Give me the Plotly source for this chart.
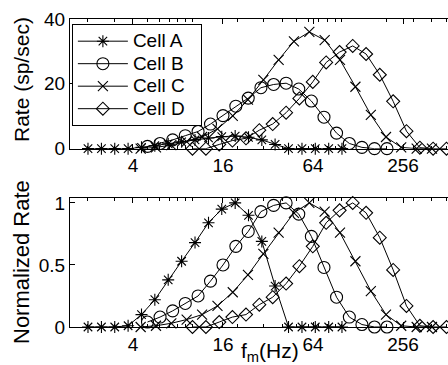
import math
import plotly.graph_objects as go

# ---- data ----
freq_a = [2.00, 2.46, 3.02, 3.71, 4.56, 5.60, 6.88, 8.46, 10.4, 12.8, 15.7, 19.3, 23.7, 29.1, 35.7, 43.9, 54.0, 66.3, 81.5, 100]
freq_b = [5.00, 6.07, 7.37, 8.95, 10.9, 13.2, 16.0, 19.5, 23.6, 28.7, 34.9, 42.3, 51.4, 62.4, 75.8, 92.0, 112, 136, 165, 200]
freq_c = [4.50, 5.70, 7.22, 9.14, 11.6, 14.7, 18.6, 23.5, 29.8, 37.7, 47.7, 60.5, 76.6, 97.0, 123, 156, 197, 249, 316, 400]
freq_d = [10.0, 12.3, 15.1, 18.5, 22.8, 28.0, 34.4, 42.3, 51.9, 63.8, 78.4, 96.4, 118, 145, 179, 220, 270, 332, 407, 500]

rate_a = [0, 0, 0, 0.0, 0.4, 0.9, 1.5, 2.1, 2.7, 3.3, 3.7, 3.9, 3.5, 2.7, 1.3, 0, 0, 0, 0, 0]
rate_b = [0.7, 1.6, 2.7, 4.0, 5.3, 7.6, 10.2, 13.1, 15.6, 18.8, 19.8, 20.2, 18.4, 14.7, 9.7, 4.8, 1.6, 0.4, 0, 0]
rate_c = [0, 0.4, 1.1, 2.2, 3.6, 6.1, 10.1, 15.1, 21.2, 27.4, 33.1, 36.0, 33.5, 27.4, 19.1, 10.4, 3.6, 0.4, 0, 0]
rate_d = [0, 0, 1.3, 2.5, 3.2, 5.7, 7.6, 11.1, 15.5, 20.6, 26.6, 29.8, 31.7, 29.2, 22.8, 14.6, 5.4, 0.3, 0, 0]

norm_a = [0, 0, 0, 0.01, 0.10, 0.22, 0.38, 0.53, 0.68, 0.84, 0.95, 1.00, 0.90, 0.69, 0.33, 0, 0, 0, 0, 0]
norm_b = [0.04, 0.08, 0.13, 0.19, 0.25, 0.37, 0.50, 0.65, 0.77, 0.93, 0.98, 1.00, 0.91, 0.73, 0.48, 0.24, 0.08, 0.02, 0, 0]
norm_c = [0, 0.01, 0.03, 0.06, 0.10, 0.17, 0.28, 0.42, 0.59, 0.76, 0.92, 1.00, 0.93, 0.76, 0.53, 0.29, 0.10, 0.01, 0, 0]
norm_d = [0, 0, 0.04, 0.08, 0.10, 0.18, 0.24, 0.35, 0.49, 0.65, 0.84, 0.94, 1.00, 0.92, 0.72, 0.46, 0.17, 0.01, 0, 0]

names = ["Cell A", "Cell B", "Cell C", "Cell D"]
x_ticks = [4, 16, 64, 256]
x_minor = [2, 3, 5, 6, 7, 8, 9, 10, 20, 30, 40, 50, 60, 70, 80, 90, 100, 200, 300, 400, 500]
top_yticks = [0, 20, 40]
bot_yticks = [0, 0.5, 1]
bot_yticklabels = ["0", "0.5", "1"]

FONT = "Liberation Sans, Arial, Helvetica, sans-serif"
symbols = ["asterisk-open", "circle-open", "x-thin-open", "diamond-open"]
sizes = [10, 12, 10, 10]

freqs = [freq_a, freq_b, freq_c, freq_d]
rates = [rate_a, rate_b, rate_c, rate_d]
norms = [norm_a, norm_b, norm_c, norm_d]

PAD = "\u00a0\u00a0"

fig = go.Figure()
for i in range(4):
    fig.add_trace(go.Scatter(
        x=freqs[i], y=rates[i],
        name='<span style="font-size:19px">' + names[i] + PAD + "</span>",
        mode="lines+markers",
        line=dict(color="black", width=1),
        marker=dict(symbol=symbols[i], size=sizes[i], color="black",
                    line=dict(color="black", width=1.1)),
        cliponaxis=False, xaxis="x", yaxis="y", showlegend=True))
for i in range(4):
    fig.add_trace(go.Scatter(
        x=freqs[i], y=norms[i], name=names[i], mode="lines+markers",
        line=dict(color="black", width=1),
        marker=dict(symbol=symbols[i], size=sizes[i], color="black",
                    line=dict(color="black", width=1.1)),
        cliponaxis=False, xaxis="x2", yaxis="y2", showlegend=False))

xr = [math.log10(1.516), math.log10(512)]

TICKF = dict(family=FONT, size=19, color="black")
common_x = dict(type="log", range=xr, tickvals=x_ticks, ticktext=[str(v) for v in x_ticks],
                ticks="inside", ticklen=5, tickcolor="black", showline=True, linecolor="black",
                linewidth=1, mirror="ticks", showgrid=False, zeroline=False,
                tickfont=TICKF,
                minor=dict(tickvals=x_minor, ticks="inside", ticklen=3, tickcolor="black", showgrid=False))
common_y = dict(ticks="inside", ticklen=5, tickcolor="black", showline=True, linecolor="black",
                linewidth=1, showgrid=False, zeroline=False, tickfont=TICKF)

fig.update_layout(
    width=448, height=365,
    margin=dict(l=70, r=0, t=19, b=38),
    paper_bgcolor="white", plot_bgcolor="white",
    font=dict(family=FONT, size=19, color="black"),
    xaxis=dict(domain=[0, 1], anchor="y", **common_x),
    yaxis=dict(domain=[0.579, 1], anchor="x", range=[0, 40], tickvals=top_yticks, **common_y),
    xaxis2=dict(domain=[0, 1], anchor="y2", **common_x),
    yaxis2=dict(domain=[0, 0.419], anchor="x2", range=[0, 1.04], tickvals=bot_yticks,
                ticktext=bot_yticklabels, **common_y),
    legend=dict(x=0.005, y=0.984, xanchor="left", yanchor="top", bgcolor="white",
                bordercolor="black", borderwidth=1, font=dict(family=FONT, size=15, color="black"),
                tracegroupgap=0, itemwidth=50),
    annotations=[
        dict(text="Rate (sp/sec)", textangle=-90, xref="paper", yref="paper",
             x=(21 - 70) / 378, y=(327 - 80) / 308, xanchor="center", yanchor="middle",
             showarrow=False, font=dict(family=FONT, size=21, color="black")),
        dict(text="Normalized Rate", textangle=-90, xref="paper", yref="paper",
             x=(21 - 70) / 378, y=(327 - 262) / 308, xanchor="center", yanchor="middle",
             showarrow=False, font=dict(family=FONT, size=22, color="black")),
        dict(text="f<sub>m</sub>(Hz)", xref="paper", yref="paper",
             x=(270 - 70) / 378, y=(327 - 352) / 308, xanchor="center", yanchor="middle",
             showarrow=False, font=dict(family=FONT, size=21, color="black")),
    ],
)

fig.write_html("out.html")
